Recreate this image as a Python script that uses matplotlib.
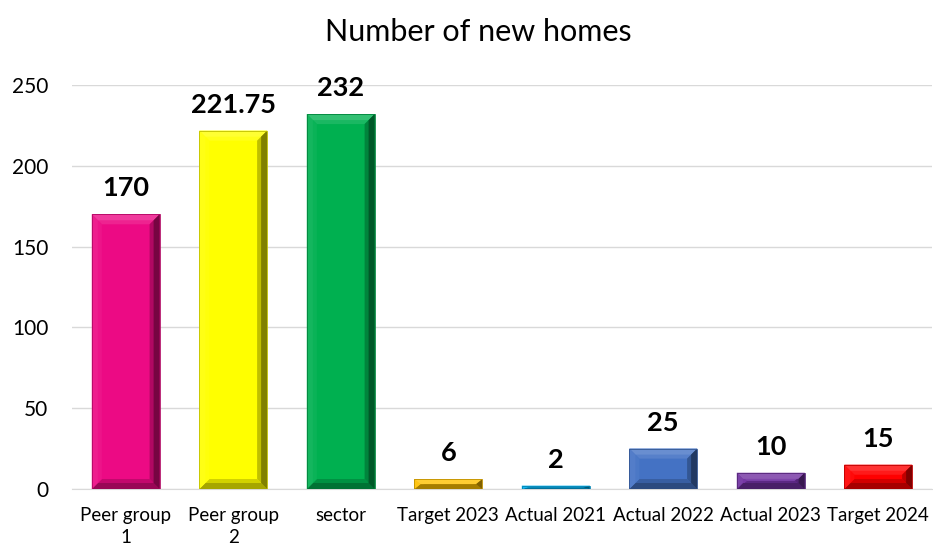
import numpy as np
import matplotlib
matplotlib.use("Agg")
import matplotlib.pyplot as plt
from matplotlib.colors import to_rgb
from matplotlib.patches import Polygon

categories = ["Peer group\n1", "Peer group\n2", "sector", "Target 2023",
              "Actual 2021", "Actual 2022", "Actual 2023", "Target 2024"]
values = [170, 221.75, 232, 6, 2, 25, 10, 15]
labels = ["170", "221.75", "232", "6", "2", "25", "10", "15"]
colors = ["#EC0A84", "#FFFF00", "#00B050", "#FFC000",
          "#00B0F0", "#4472C4", "#7030A0", "#FF0000"]

plt.rcParams['font.family'] = ['Lato', 'DejaVu Sans']

W, H = 933, 548
fig = plt.figure(figsize=(W / 100, H / 100), dpi=100)
ax = fig.add_axes([72 / W, 59 / H, 860 / W, 404 / H])

x = np.arange(len(categories))
bw = 0.63
bars = ax.bar(x, values, width=bw, color=colors, zorder=2)

ax.set_xlim(-0.5, len(categories) - 0.5)
ax.set_ylim(0, 250)
ax.set_yticks(np.arange(0, 251, 50))
ax.set_xticks(x)
ax.set_xticklabels(categories, fontsize=13.5, linespacing=1.35)
ax.tick_params(axis='y', length=0, pad=17, labelsize=15)
ax.tick_params(axis='x', length=0, pad=13)
ax.grid(axis='y', color='#D9D9D9', linewidth=1, zorder=0)
for s in ['top', 'right', 'left']:
    ax.spines[s].set_visible(False)
ax.spines['bottom'].set_color('#D9D9D9')

# bevel, a few px on each side
px_x = (ax.get_xlim()[1] - ax.get_xlim()[0]) / 860
px_y = (ax.get_ylim()[1] - ax.get_ylim()[0]) / 404

def mix(c, t, f):
    c = np.array(to_rgb(c)); t = np.array(to_rgb(t))
    return tuple(c * (1 - f) + t * f)

for b, c in zip(bars, colors):
    x0, y0 = b.get_x(), b.get_y()
    x1, y1 = x0 + b.get_width(), y0 + b.get_height()
    for k, f in [(10, 0.5), (6, 1.0)]:
        bx = min(k * px_x, b.get_width() / 2)
        by = min(k * px_y, b.get_height() / 2)
        faces = [
            ([(x0, y1), (x1, y1), (x1 - bx, y1 - by), (x0 + bx, y1 - by)], mix(c, 'white', 0.2 * f)),
            ([(x0, y0), (x1, y0), (x1 - bx, y0 + by), (x0 + bx, y0 + by)], mix(c, 'black', 0.35 * f)),
            ([(x0, y0), (x0 + bx, y0 + by), (x0 + bx, y1 - by), (x0, y1)], mix(c, 'white', 0.08 * f)),
            ([(x1, y0), (x1 - bx, y0 + by), (x1 - bx, y1 - by), (x1, y1)], mix(c, 'black', 0.5 * f)),
        ]
        for pts, fc in faces:
            ax.add_patch(Polygon(pts, closed=True, facecolor=fc, edgecolor='none', zorder=3))
    ax.add_patch(plt.Rectangle((x0, y0), x1 - x0, y1 - y0, fill=False,
                               edgecolor=mix(c, 'black', 0.25), linewidth=0.6, zorder=4))

for xi, v, lab in zip(x, values, labels):
    ax.annotate(lab, (xi, v), xytext=(0, 10), textcoords='offset points',
                ha='center', va='bottom', fontsize=19.5, fontweight='bold', zorder=5)

fig.text(478 / W, 1 - 32 / H, "Number of new homes", ha='center', va='center', fontsize=22)

fig.savefig("out.png", dpi=100)
